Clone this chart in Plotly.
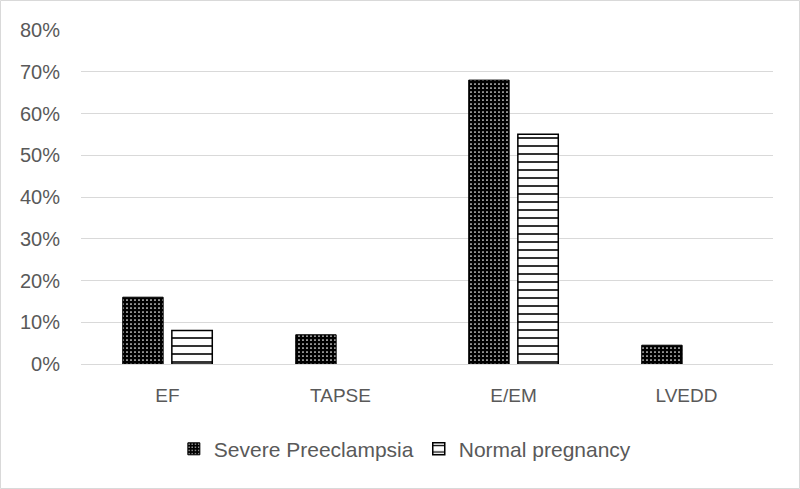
import plotly.graph_objects as go

categories = ["EF", "TAPSE", "E/EM", "LVEDD"]
severe = [0.16, 0.07, 0.68, 0.045]
normal = [0.08, 0.0, 0.55, 0.0]
series_names = ["Severe Preeclampsia", "Normal pregnancy"]

W, H = 800, 489
ml, mr, mt, mb = 81, 27, 30, 125
pw, ph = W - ml - mr, H - mt - mb

fig = go.Figure()
fig.add_trace(go.Bar(
    x=categories, y=severe, name=series_names[0],
    marker=dict(color="black",
                line=dict(color="black", width=[1 if v > 0 else 0 for v in severe]),
                pattern=dict(shape=".", fgcolor="white", bgcolor="black",
                             size=4, solidity=0.15, fillmode="replace")),
))
fig.add_trace(go.Bar(
    x=categories, y=normal, name=series_names[1],
    marker=dict(color="white",
                line=dict(color="black", width=[1.5 if v > 0 else 0 for v in normal]),
                pattern=dict(shape="-", fgcolor="black", bgcolor="white",
                             size=8, solidity=0.2, fillmode="replace")),
))

txt = "#595959"
fig.update_layout(
    width=W, height=H,
    margin=dict(l=ml, r=mr, t=mt, b=mb),
    paper_bgcolor="white", plot_bgcolor="white",
    barmode="group", bargap=0.432, bargroupgap=0.177,
    font=dict(family="Liberation Sans, Arial, sans-serif", size=19, color=txt),
    showlegend=True,
    legend=dict(orientation="h", x=0.468, xanchor="center", y=-0.255, yanchor="middle",
                font=dict(size=21, color=txt), itemwidth=30),
    xaxis=dict(showgrid=False, showline=False, zeroline=False, ticks="",
               ticklabelstandoff=18, tickfont=dict(size=19, color=txt)),
    yaxis=dict(range=[0, 0.8], dtick=0.1, tickformat=".0%", showgrid=True,
               gridcolor="#d9d9d9", gridwidth=1, zeroline=True, zerolinecolor="#d9d9d9",
               zerolinewidth=1, showline=False, ticks="", ticklabelstandoff=20,
               tickfont=dict(size=20, color=txt)),
    shapes=[dict(type="rect", xref="paper", yref="paper",
                 x0=-(ml - 0.5) / pw, x1=1 + (mr - 0.5) / pw,
                 y0=-(mb - 0.5) / ph, y1=1 + (mt - 0.5) / ph,
                 line=dict(color="#d9d9d9", width=1), layer="below")],
)

fig.write_html("out.html", config={"displayModeBar": False},
               post_script="document.body.style.margin='0px';")
